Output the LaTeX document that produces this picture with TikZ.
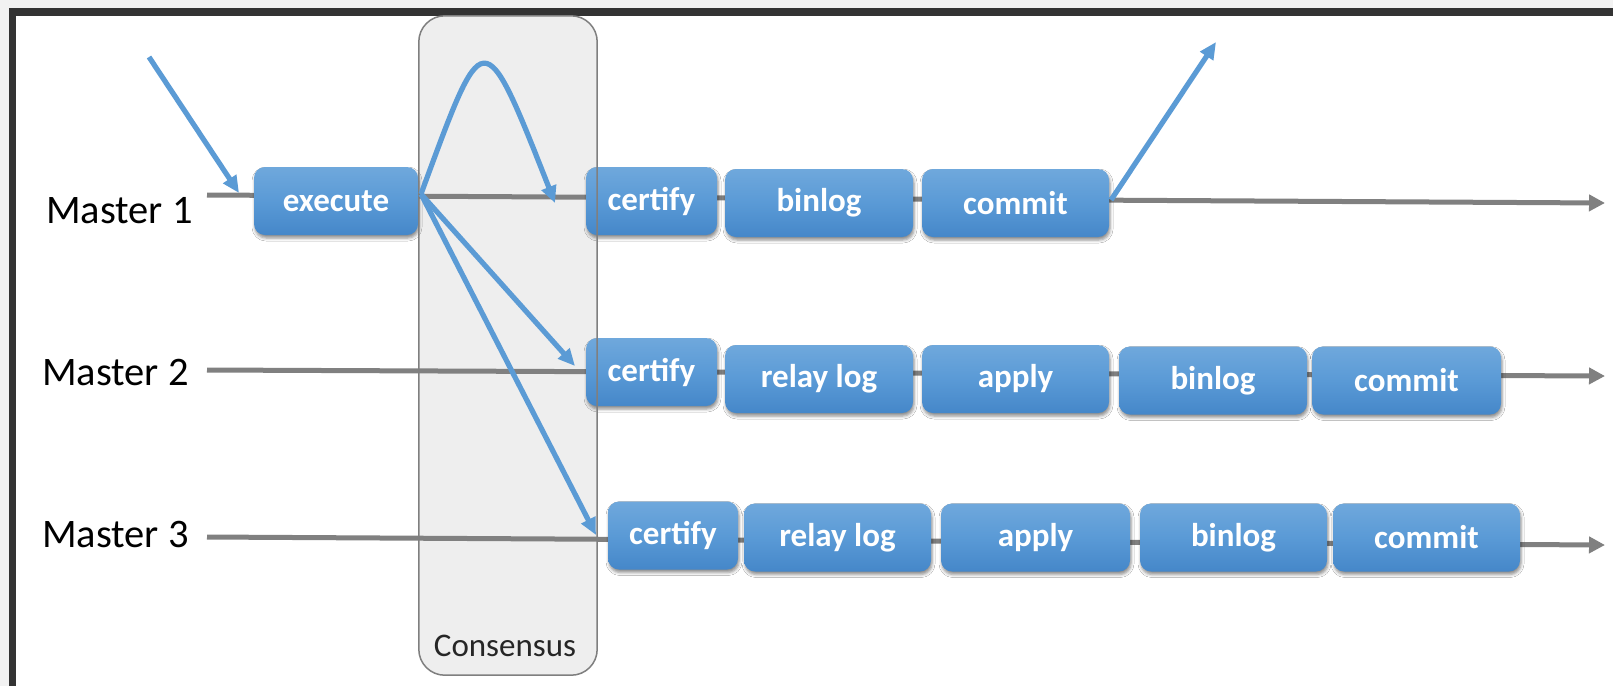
\documentclass[tikz,border=0pt]{standalone}
\usepackage{fontspec}
\setmainfont{Carlito}
\usetikzlibrary{arrows.meta,bending,shadows.blur}
\definecolor{boxtop}{HTML}{6FA8DC}
\definecolor{boxmid}{HTML}{5A9AD6}
\definecolor{boxbot}{HTML}{4587C9}
\definecolor{flowblue}{HTML}{5B9BD5}
\definecolor{timegray}{HTML}{808080}
\definecolor{framedark}{HTML}{333333}
\definecolor{framelight}{HTML}{F2F2F2}
\definecolor{consfill}{HTML}{EEEEEE}
\definecolor{consline}{HTML}{7F7F7F}

\begin{document}
\begin{tikzpicture}[x=1pt,y=-1pt,
  stage/.style={rounded corners=11pt, minimum height=68pt, inner sep=0pt, text=white,
    font=\fontsize{33}{35}\selectfont\bfseries,
    top color=boxtop, bottom color=boxbot, middle color=boxmid,
    blur shadow={shadow xshift=1pt, shadow yshift=-3pt, shadow blur radius=3pt, shadow opacity=45}},
  master/.style={anchor=base west, inner sep=0pt, font=\fontsize{40.5}{42}\selectfont},
  timeline/.style={draw=timegray, line width=5pt, -{Triangle[length=16pt,width=16pt]}},
  flow/.style={draw=flowblue, line width=5.2pt, -{Triangle[length=17pt,width=15pt]}},
]
\useasboundingbox (0,0) rectangle (1613,686);

% window frame
\fill[framelight] (0,0) rectangle (1613,686);
\fill[framedark] (9,7.5) rectangle (1613,15.5);
\fill[framedark] (9,7.5) rectangle (16,686);
\fill[white] (16,15.5) rectangle (1613,686);

% consensus band (fill only; outline drawn over the boxes)
\node[fill=consfill, rounded corners=26pt, minimum width=178pt, minimum height=659pt, inner sep=0pt]
  (cons) at (508,345.5) {};

% timelines
\coordinate (t1s) at (207,195); \coordinate (t1e) at (1605,203);
\coordinate (t2s) at (207,370); \coordinate (t2e) at (1605,376);
\coordinate (t3s) at (207,537); \coordinate (t3e) at (1605,545);
\draw[timeline] (t1s) -- (t1e);
\draw[timeline] (t2s) -- (t2e);
\draw[timeline] (t3s) -- (t3e);

% master 1
\node[stage, minimum width=164pt] (exe) at (336,201) {execute};
\node[stage, minimum width=131pt] (c1) at (651.5,201) {certify};
\node[stage, minimum width=188pt] (b1) at (819,203) {binlog};
\node[stage, minimum width=187pt] (m1) at (1015.5,203) {commit};

% master 2
\node[stage, minimum width=131pt] (c2) at (651.5,372) {certify};
\node[stage, minimum width=188pt] (r2) at (819,379) {relay log};
\node[stage, minimum width=187pt] (a2) at (1015.5,379) {apply};
\node[stage, minimum width=188pt] (b2) at (1213,380.5) {binlog};
\node[stage, minimum width=189pt] (m2) at (1406.5,380.5) {commit};

% master 3
\node[stage, minimum width=130pt] (c3) at (673,535.5) {certify};
\node[stage, minimum width=187pt] (r3) at (837.5,537.5) {relay log};
\node[stage, minimum width=189pt] (a3) at (1035.5,537.5) {apply};
\node[stage, minimum width=187pt] (b3) at (1233.5,537.5) {binlog};
\node[stage, minimum width=187pt] (m3) at (1426.5,537.5) {commit};

% consensus outline and label
\draw[consline, line width=1.5pt, rounded corners=26pt] (cons.north west) rectangle (cons.south east);
\node[font=\fontsize{33}{34}\selectfont, text=black!85, anchor=base, inner sep=0pt] (conslabel) at (505,656) {Consensus};

% row labels
\node[master] (lab1) at (46,223) {Master 1};
\node[master] (lab2) at (42,385) {Master 2};
\node[master] (lab3) at (42,547) {Master 3};

% message flow
\coordinate (inS) at (149,57);
\coordinate (inE) at (239,193);
\coordinate (exOut) at (421,194);
\coordinate (loopE) at (555,203);
\coordinate (toC2) at (575,366);
\coordinate (toC3) at (596,535);
\coordinate (cmOut) at (1111,200);
\coordinate (outE) at (1216,42);
\draw[flow] (inS) -- (inE);
\draw[flow] (exOut) .. controls (486,18) and (482,18) .. (loopE);
\draw[flow] (exOut) -- (toC2);
\draw[flow] (exOut) -- (toC3);
\draw[flow] (cmOut) -- (outE);
\end{tikzpicture}
\end{document}
